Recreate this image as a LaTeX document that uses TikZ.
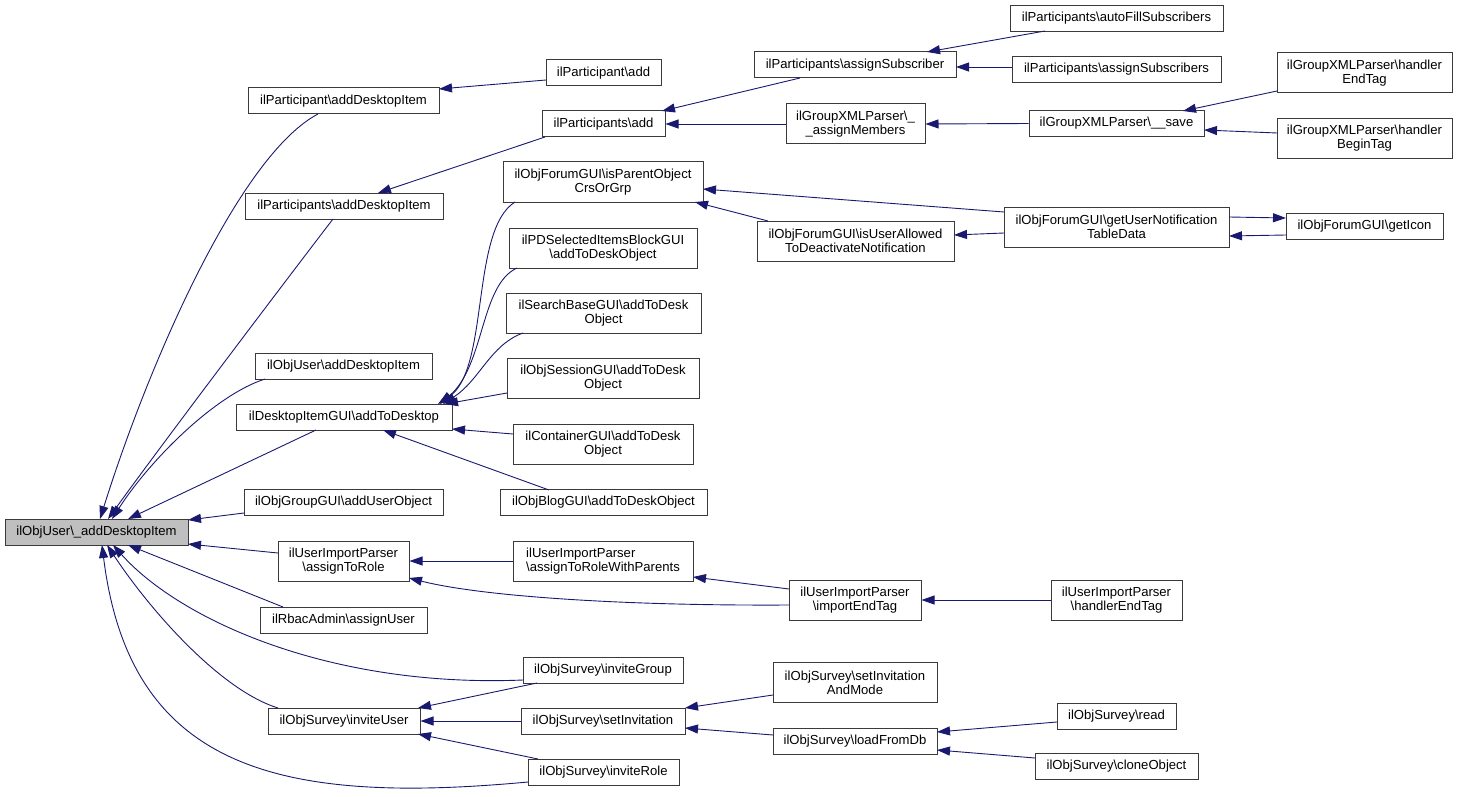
\documentclass[tikz,border=0pt]{standalone}
\usepackage{fontspec}
\setmainfont{Liberation Sans}
\usetikzlibrary{arrows.meta}
\definecolor{edgeblue}{HTML}{191970}
\definecolor{boxline}{HTML}{3a3a3a}
\newcommand\bs{\textbackslash{}}
\newcommand\nfont{\fontsize{13.1}{14.2}\selectfont}
\newcommand\nd[7][]{\node[box,minimum width=#5pt,minimum height=#6pt,#1] (#2) at (#3,#4) {#7};}
\tikzset{
  box/.style={draw=boxline, line width=1pt, inner sep=0pt, font=\nfont, align=center, fill=white},
  conn/.style={draw=edgeblue, line width=0.9pt, -{Triangle[length=13pt,width=9pt]}, color=edgeblue}
}
\begin{document}
\begin{tikzpicture}[x=1pt,y=-1pt]
\useasboundingbox (0,0) rectangle (1457,797);
% nodes
\nd[fill=black!25]{root}{96.5}{532}{183}{26}{ilObjUser\bs\_addDesktopItem}
\nd{pAdi}{343.5}{101}{191}{26}{ilParticipant\bs addDesktopItem}
\nd{psAdi}{344}{206}{198}{26}{ilParticipants\bs addDesktopItem}
\nd{ouAdi}{343.5}{366}{177}{26}{ilObjUser\bs addDesktopItem}
\nd{dgui}{344}{417}{216}{26}{ilDesktopItemGUI\bs addToDesktop}
\nd{ggui}{343.5}{502}{199}{26}{ilObjGroupGUI\bs addUserObject}
\nd{atr}{343.5}{561}{131}{40}{ilUserImportParser\\\bs assignToRole}
\nd{rbac}{343.5}{620}{167}{26}{ilRbacAdmin\bs assignUser}
\nd{invU}{344}{721}{152}{26}{ilObjSurvey\bs inviteUser}
\nd{pAdd}{603.5}{73}{115}{26}{ilParticipant\bs add}
\nd{psAdd}{603.5}{124}{123}{26}{ilParticipants\bs add}
\nd{isPar}{603}{182}{200}{40}{ilObjForumGUI\bs isParentObject\\CrsOrGrp}
\nd{pdsel}{603}{248}{188}{40}{ilPDSelectedItemsBlockGUI\\\bs addToDeskObject}
\nd{srch}{603.5}{313}{195}{40}{ilSearchBaseGUI\bs addToDesk\\Object}
\nd{sess}{603}{378.5}{192}{40}{ilObjSessionGUI\bs addToDesk\\Object}
\nd{cont}{603}{444}{180}{40}{ilContainerGUI\bs addToDesk\\Object}
\nd{blog}{603.5}{502.5}{207}{26}{ilObjBlogGUI\bs addToDeskObject}
\nd[align=left]{atrwp}{603}{561}{180}{40}{ilUserImportParser\\\bs assignToRoleWithParents}
\nd{invG}{603}{670.5}{160}{26}{ilObjSurvey\bs inviteGroup}
\nd{setInv}{603}{721}{164}{26}{ilObjSurvey\bs setInvitation}
\nd{invR}{603.5}{772}{151}{26}{ilObjSurvey\bs inviteRole}
\nd{asub}{855}{65}{202}{26}{ilParticipants\bs assignSubscriber}
\nd{amem}{855.5}{124}{139}{40}{ilGroupXMLParser\bs\_\\\_assignMembers}
\nd{isUA}{855.5}{241}{197}{40}{ilObjForumGUI\bs isUserAllowed\\ToDeactivateNotification}
\nd{iet}{855}{600}{132}{40}{ilUserImportParser\\\bs importEndTag}
\nd{sim}{855}{682.5}{164}{40}{ilObjSurvey\bs setInvitation\\AndMode}
\nd{lfd}{855}{741}{164}{26}{ilObjSurvey\bs loadFromDb}
\nd{afill}{1116.5}{18.5}{213}{26}{ilParticipants\bs autoFillSubscribers}
\nd{asubs}{1116.5}{69.5}{209}{26}{ilParticipants\bs assignSubscribers}
\nd{save}{1116.5}{123.5}{175}{26}{ilGroupXMLParser\bs\_\_save}
\nd{gund}{1116.5}{227}{225}{40}{ilObjForumGUI\bs getUserNotification\\TableData}
\nd{uihet}{1116.5}{600}{131}{40}{ilUserImportParser\\\bs handlerEndTag}
\nd{read}{1116.5}{716}{119}{26}{ilObjSurvey\bs read}
\nd{clone}{1116.5}{766.5}{163}{26}{ilObjSurvey\bs cloneObject}
\nd{gxEnd}{1364.5}{73}{175}{40}{ilGroupXMLParser\bs handler\\EndTag}
\nd{gxBegin}{1364.5}{138.5}{175}{40}{ilGroupXMLParser\bs handler\\BeginTag}
\nd{gicon}{1364.5}{226.5}{157}{26}{ilObjForumGUI\bs getIcon}
% edges into root
\draw[conn] ([shift={(-25.5,13)}]pAdi.center) .. controls (240,155) and (150,360) .. ([shift={(3.5,-13)}]root.center);
\draw[conn] ([shift={(-11,13)}]psAdi.center) .. controls (290,275) and (165,440) .. ([shift={(11.5,-13)}]root.center);
\draw[conn] ([shift={(-78.5,13)}]ouAdi.center) .. controls (215,395) and (150,460) .. ([shift={(15.5,-13)}]root.center);
\draw[conn] ([shift={(-28,13)}]dgui.center) -- ([shift={(31.5,-13)}]root.center);
\draw[conn] ([shift={(-99.5,11)}]ggui.center) -- ([shift={(91.5,-12)}]root.center);
\draw[conn] ([shift={(-65.5,-8)}]atr.center) -- ([shift={(91.5,12)}]root.center);
\draw[conn] ([shift={(-60.5,-13)}]rbac.center) -- ([shift={(31.5,13)}]root.center);
\draw[conn] ([shift={(-80,9.5)}]invG.center) .. controls (330,688) and (180,620) .. ([shift={(16.5,13)}]root.center);
\draw[conn] ([shift={(-66,-13)}]invU.center) .. controls (220,690) and (150,610) .. ([shift={(10.5,13)}]root.center);
\draw[conn] ([shift={(-75.5,10)}]invR.center) .. controls (280,805) and (130,770) .. ([shift={(5.5,13)}]root.center);
% second level
\draw[conn] ([shift={(-57.5,7)}]pAdd.center) -- ([shift={(95.5,-12)}]pAdi.center);
\draw[conn] ([shift={(-58.5,13)}]psAdd.center) -- ([shift={(34,-13)}]psAdi.center);
\draw[conn] ([shift={(-55,13)}]asub.center) -- ([shift={(58.5,-13)}]psAdd.center);
\draw[conn] (amem.west) -- (psAdd.east);
\draw[conn] ([shift={(-71.5,12.5)}]afill.center) -- ([shift={(72,-13)}]asub.center);
\draw[conn] ([shift={(-104.5,-2.5)}]asubs.center) -- ([shift={(101,2)}]asub.center);
\draw[conn] (save.west) -- (amem.east);
\draw[conn] ([shift={(-87.5,18)}]gxEnd.center) -- ([shift={(66.5,-12.5)}]save.center);
\draw[conn] ([shift={(-87.5,-5.5)}]gxBegin.center) -- ([shift={(87.5,6.5)}]save.center);
\draw[conn] ([shift={(-112.5,-15)}]gund.center) -- ([shift={(100,7)}]isPar.center);
\draw[conn] ([shift={(-87.5,-20)}]isUA.center) -- ([shift={(92,20)}]isPar.center);
\draw[conn] ([shift={(-112.5,6)}]gund.center) -- ([shift={(98.5,-6)}]isUA.center);
\draw[conn] ([shift={(112.5,-10)}]gund.center) -- ([shift={(-78.5,-8.5)}]gicon.center);
\draw[conn] ([shift={(-78.5,8.5)}]gicon.center) -- ([shift={(112.5,9)}]gund.center);
% into addToDesktop
\draw[conn] ([shift={(-88,20)}]isPar.center) .. controls (470,230) and (490,370) .. ([shift={(94,-13)}]dgui.center);
\draw[conn] ([shift={(-86,20)}]pdsel.center) .. controls (480,285) and (485,365) .. ([shift={(96,-13)}]dgui.center);
\draw[conn] ([shift={(-80.5,20)}]srch.center) .. controls (490,345) and (480,380) .. ([shift={(99,-13)}]dgui.center);
\draw[conn] ([shift={(-96,14.5)}]sess.center) -- ([shift={(101,-13)}]dgui.center);
\draw[conn] ([shift={(-90,-10)}]cont.center) -- ([shift={(108,12)}]dgui.center);
\draw[conn] ([shift={(-54.5,-12.5)}]blog.center) -- ([shift={(39,13)}]dgui.center);
% user import parser
\draw[conn] (atrwp.west) -- (atr.east);
\draw[conn] ([shift={(-66,5)}]iet.center) .. controls (620,606) and (480,596) .. ([shift={(65.5,17)}]atr.center);
\draw[conn] ([shift={(-66,-11)}]iet.center) -- ([shift={(90,16)}]atrwp.center);
\draw[conn] (uihet.west) -- (iet.east);
% survey
\draw[conn] ([shift={(-66,12.5)}]invG.center) -- ([shift={(74,-13)}]invU.center);
\draw[conn] (setInv.west) -- (invU.east);
\draw[conn] ([shift={(-65.5,-13)}]invR.center) -- ([shift={(74,13)}]invU.center);
\draw[conn] ([shift={(-82,12.5)}]sim.center) -- ([shift={(82,-13)}]setInv.center);
\draw[conn] ([shift={(-82,-6)}]lfd.center) -- ([shift={(82,7)}]setInv.center);
\draw[conn] ([shift={(-59.5,6)}]read.center) -- ([shift={(82,-9)}]lfd.center);
\draw[conn] ([shift={(-81.5,-8.5)}]clone.center) -- ([shift={(82,9)}]lfd.center);
\end{tikzpicture}
\end{document}
